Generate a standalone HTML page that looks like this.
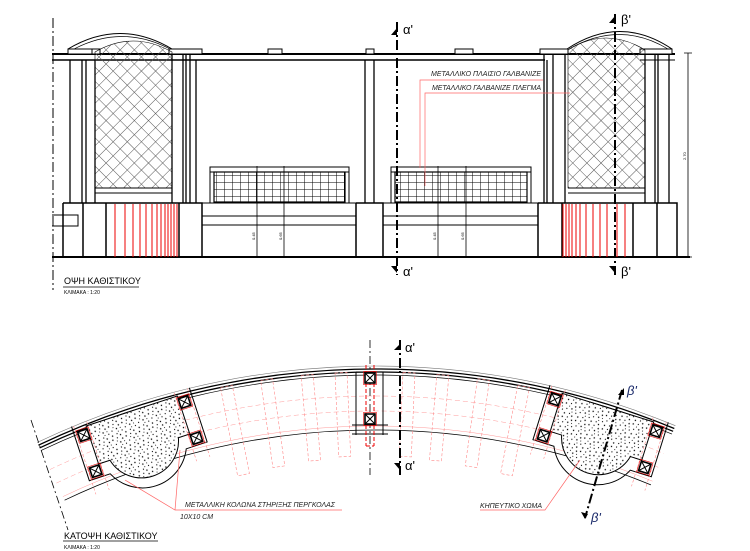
<!DOCTYPE html>
<html><head><meta charset="utf-8"><style>
html,body{margin:0;padding:0;background:#fff;width:750px;height:551px;overflow:hidden}
svg{display:block}
text{font-family:"Liberation Sans",sans-serif}
</style></head><body>
<svg width="750" height="551" viewBox="0 0 750 551" xmlns="http://www.w3.org/2000/svg" style="position:absolute;left:0;top:0">
<defs>
<pattern id="lat" width="10" height="10" patternUnits="userSpaceOnUse" patternTransform="rotate(45)">
<path d="M0 0V10M0 0H10" stroke="#555" stroke-width="1" fill="none"/>
</pattern>
<pattern id="dots" width="14" height="14" patternUnits="userSpaceOnUse">
<rect width="14" height="14" fill="#fff"/>
<g fill="#000">
<circle cx="1" cy="2" r=".7"/><circle cx="6" cy="1" r=".6"/><circle cx="11" cy="3" r=".7"/>
<circle cx="3" cy="7" r=".6"/><circle cx="8" cy="6" r=".7"/><circle cx="13" cy="9" r=".6"/>
<circle cx="2" cy="12" r=".7"/><circle cx="7" cy="11" r=".6"/><circle cx="10" cy="13" r=".7"/>
<circle cx="5" cy="4" r=".5"/><circle cx="12" cy="6" r=".5"/><circle cx="9" cy="9" r=".5"/>
</g>
</pattern>
<pattern id="grid" width="8" height="7" patternUnits="userSpaceOnUse">
<path d="M0 0V7M0 0H8" stroke="#000" stroke-width="1" fill="none"/>
</pattern>
<g id="col">
<rect x="-5" y="-5" width="10" height="10" fill="#fff" stroke="#000" stroke-width="1.6"/>
<path d="M-5 -5L5 5M5 -5L-5 5" stroke="#000" stroke-width="1"/>
<rect x="-6.5" y="-6.5" width="13" height="13" fill="none" stroke="#d00" stroke-width=".6"/>
</g>
<g id="planter">
<path d="M-62 368 V425 H-40 A44 44 0 0 0 40 425 H62 V368" fill="none" stroke="#000" stroke-width="1"/>
<path d="M-48 372 H48 V412 H36 A37 37 0 0 1 -36 412 H-48 Z" fill="url(#dots)" stroke="#000" stroke-width="1"/>
<use href="#col" x="-53" y="380"/><use href="#col" x="53" y="380"/>
<use href="#col" x="-53" y="418"/><use href="#col" x="53" y="418"/>
<path d="M-60 368V440M-46 368V440M46 368V440M60 368V440" stroke="#f88" stroke-width=".6" stroke-dasharray="3 2"/>
</g>
</defs>

<!-- ================= ELEVATION ================= -->
<g stroke="#000" fill="none">
<line x1="53" y1="18" x2="53" y2="290" stroke-width="1" stroke-dasharray="10 3 2 3"/>
<line x1="52" y1="54" x2="675" y2="54" stroke-width="2"/>
<line x1="52" y1="60" x2="545" y2="60" stroke-width="1.6"/>
<line x1="640" y1="60" x2="675" y2="60" stroke-width="1"/>
<rect x="68" y="49" width="31" height="5" fill="#fff" stroke-width="1"/>
<rect x="92" y="49" width="8" height="5" fill="#fff" stroke-width="1"/>
<rect x="169" y="49" width="33" height="5" fill="#fff" stroke-width="1"/>
<rect x="268" y="49" width="14" height="5" fill="#fff" stroke-width="1"/>
<rect x="366" y="49" width="8" height="5" fill="#fff" stroke-width="1"/>
<rect x="455" y="49" width="18" height="5" fill="#fff" stroke-width="1"/>
<rect x="540" y="49" width="28" height="5" fill="#fff" stroke-width="1"/>
<rect x="640" y="49" width="32" height="5" fill="#fff" stroke-width="1"/>
<path d="M68 49 Q120 18 172 49" stroke-width="1"/>
<path d="M74 49 Q122 24 170 49" stroke-width=".7"/>
<path d="M567 49 Q620 14 672 49" stroke-width="1"/>
<path d="M569 49 Q620 20 668 49" stroke-width=".7"/>
</g>
<path d="M95 188 V52 Q133 30 172 52 V188 Z" fill="url(#lat)" stroke="#000" stroke-width=".6"/>
<path d="M568 188 V50 Q606 26 645 50 V188 Z" fill="url(#lat)" stroke="#000" stroke-width=".6"/>
<g stroke="#000" fill="none">
<line x1="95" y1="188" x2="172" y2="188" stroke-width="1"/><line x1="95" y1="193" x2="172" y2="193"/>
<line x1="568" y1="188" x2="645" y2="188"/><line x1="568" y1="193" x2="645" y2="193"/>
<path d="M70 60V203M82 60V203M86 60V203M95 60V203" stroke-width="1.3"/>
<path d="M172 54V203M183 54V203M186 54V203M190 54V203M196 60V203" stroke-width="1.3"/>
<path d="M365 60V203M374 60V203" stroke-width="1.3"/>
<path d="M544 54V203M547 60V203M553 54V203M565 54V203" stroke-width="1.3"/>
<path d="M645 54V203M655 54V203M658 54V203M669 54V203" stroke-width="1.3"/>
<line x1="52" y1="257" x2="690" y2="257" stroke-width="2"/>
<path d="M63 203H202V257M63 203V257M83 203V257M106 203V257M179 203V257" stroke-width="1.5"/>
<path d="M52 215H78V226H52" stroke-width="1"/>
<path d="M202 216H356M202 225H356" stroke-width="1"/>
<path d="M356 203H383V257M356 203V257" stroke-width="1.5"/>
<path d="M383 216H538M383 225H538" stroke-width="1"/>
<path d="M538 203H677V257M538 203V257M562 203V257M633 203V257M657 203V257" stroke-width="1.5"/>
<line x1="383" y1="203" x2="538" y2="203" stroke-width="1"/>
<line x1="202" y1="203" x2="356" y2="203" stroke-width="1"/>
</g>
<g stroke="#e00" stroke-width="1">
<path d="M115 204V257M125 204V257M133 204V257M140 204V257M146 204V257M152 204V257M157 204V257M161 204V257M165 204V257M168 204V257M171 204V257M174 204V257M177 204V257"/>
<path d="M563 204V257M566 204V257M569 204V257M572 204V257M576 204V257M580 204V257M586 204V257M593 204V257M600 204V257M607 204V257M617 204V257M625 204V257"/>
</g>
<g stroke="#000" fill="none">
<rect x="210" y="167" width="139" height="36" stroke-width="1"/>
<line x1="210" y1="172" x2="349" y2="172"/>
<rect x="214" y="172" width="131" height="30" fill="url(#grid)" stroke-width="1.2"/>
<rect x="391" y="167" width="140" height="36" stroke-width="1"/>
<line x1="391" y1="172" x2="531" y2="172"/>
<rect x="395" y="172" width="132" height="30" fill="url(#grid)" stroke-width="1.2"/>
<path d="M257 166V258M284 166V258M438 166V258M466 166V258" stroke-width=".8"/>
<path d="M688 53V257M684 53H692M684 257H692" stroke-width=".8"/>
</g>
<g font-size="4" fill="#000">
<text transform="translate(255,240) rotate(-90)">0.45</text><text transform="translate(282,240) rotate(-90)">0.65</text>
<text transform="translate(436,240) rotate(-90)">0.45</text><text transform="translate(464,240) rotate(-90)">0.65</text>
<text transform="translate(686,160) rotate(-90)">2.70</text>
</g>
<g stroke="#000" stroke-width="2" stroke-dasharray="10 3 2 3">
<line x1="397" y1="22" x2="397" y2="275"/>
<line x1="615" y1="14" x2="615" y2="275"/>
</g>
<g fill="#000">
<path d="M391 35L397 28V35Z"/><path d="M391 266L397 266V273Z"/>
<path d="M609 23L615 16V23Z"/><path d="M609 266L615 266V273Z"/>
</g>
<g font-size="13" fill="#000" font-family="Liberation Serif,serif">
<text x="403" y="34">α'</text><text x="403" y="276">α'</text>
<text x="621" y="24">β'</text><text x="621" y="276">β'</text>
</g>
<g fill="#222" font-size="7" font-style="italic">
<text x="431" y="76" textLength="110">ΜΕΤΑΛΛΙΚΟ  ΠΛΑΙΣΙΟ  ΓΑΛΒΑΝΙΖΕ</text>
<text x="432" y="90" textLength="109">ΜΕΤΑΛΛΙΚΟ  ΓΑΛΒΑΝΙΖΕ  ΠΛΕΓΜΑ</text>
</g>
<g stroke="#f66" stroke-width=".7" fill="none">
<path d="M543 80H420V168"/><path d="M570 93H425V186"/>
</g>
<text x="64" y="284" font-size="9" font-family="Liberation Serif,serif">ΟΨΗ  ΚΑΘΙΣΤΙΚΟΥ</text>
<line x1="63" y1="287" x2="139" y2="287" stroke="#000" stroke-width=".8"/>
<text x="64" y="294" font-size="5">ΚΛΙΜΑΚΑ : 1:20</text>

<!-- ================= PLAN ================= -->
<g fill="none" stroke="#000">
<path d="M37.1 442.5A785 785 0 0 1 675.4 425.7" stroke-width=".6" stroke="#777"/>
<path d="M38.4 445.2A782 782 0 0 1 674.3 428.5" stroke-width="1.3"/>
<path d="M39.6 447.9A779 779 0 0 1 673.1 431.3" stroke-width="1.3"/>
<path d="M40.9 450.6A776 776 0 0 1 672.0 434.1" stroke-width=".7"/>
<path d="M50.0 469.5A755 755 0 0 1 663.9 453.5" stroke="#f99" stroke-width=".5" stroke-dasharray="5 3"/>
<path d="M56.4 483.1A740 740 0 0 1 658.2 467.3" stroke="#f99" stroke-width=".5" stroke-dasharray="5 3"/>
<path d="M62.9 496.6A725 725 0 0 1 652.5 481.2" stroke="#f99" stroke-width=".5"/>
<path d="M64.6 500.2A721 721 0 0 1 650.9 484.9" stroke-width=".8"/>
</g>
<line x1="31" y1="420" x2="68" y2="530" stroke="#000" stroke-width=".8" stroke-dasharray="8 3 2 3"/>
<g stroke="#f88" stroke-width=".6" fill="none" stroke-dasharray="3 2">
<g transform="rotate(-11 375 1151)"><rect x="369" y="372" width="12" height="90"/></g>
<g transform="rotate(-8 375 1151)"><rect x="369" y="372" width="12" height="88"/></g>
<g transform="rotate(-5 375 1151)"><rect x="369" y="372" width="12" height="86"/></g>
<g transform="rotate(-2.5 375 1151)"><rect x="369" y="372" width="12" height="84"/></g>
<g transform="rotate(2.5 375 1151)"><rect x="369" y="372" width="12" height="84"/></g>
<g transform="rotate(5 375 1151)"><rect x="369" y="372" width="12" height="86"/></g>
<g transform="rotate(8 375 1151)"><rect x="369" y="372" width="12" height="88"/></g>
<g transform="rotate(11 375 1151)"><rect x="369" y="372" width="12" height="90"/></g>
</g>
<g transform="rotate(-18.2 375 1151)"><use href="#planter" x="375"/></g>
<g transform="rotate(17.4 375 1151)"><use href="#planter" x="375"/></g>
<g stroke="#000" fill="none" stroke-width="1">
<path d="M356 372V435M383 372V435M352 434H388M352 425H388M356 372H383"/>
<path d="M366 365V446M374 365V446M366 446H374" stroke="#e00" stroke-dasharray="4 2" stroke-width="1"/>
<path d="M370 340V475" stroke-dasharray="8 3 2 3" stroke-width=".8"/>
</g>
<use href="#col" x="370" y="378"/><use href="#col" x="370" y="419"/>
<line x1="400" y1="340" x2="400" y2="475" stroke="#000" stroke-width="2" stroke-dasharray="10 3 2 3"/>
<path d="M394 350L400 344V350Z"/><path d="M394 463L400 463V470Z"/>
<text x="405" y="352" font-size="13" font-family="Liberation Serif,serif">α'</text>
<text x="405" y="470" font-size="13" font-family="Liberation Serif,serif">α'</text>
<line x1="622" y1="390" x2="585" y2="518" stroke="#000" stroke-width="2" stroke-dasharray="10 3 2 3"/>
<path d="M618 395L624 388L624 395Z"/><path d="M581 512L588 514L585 519Z"/>
<text x="627" y="395" font-size="13" font-style="italic" fill="#1a2a6a" font-family="Liberation Serif,serif">β'</text>
<text x="591" y="522" font-size="13" font-style="italic" fill="#1a2a6a" font-family="Liberation Serif,serif">β'</text>
<g stroke="#f66" stroke-width=".7" fill="none">
<path d="M342 510H175L125 480"/><path d="M175 510L180 450"/>
<path d="M480 510H545L580 460"/>
</g>
<g fill="#222" font-size="7" font-style="italic">
<text x="185" y="507" textLength="150">ΜΕΤΑΛΛΙΚΗ  ΚΟΛΩΝΑ  ΣΤΗΡΙΞΗΣ  ΠΕΡΓΚΟΛΑΣ</text>
<text x="180" y="519">10Χ10  CM</text>
<text x="480" y="508" textLength="62">ΚΗΠΕΥΤΙΚΟ  ΧΩΜΑ</text>
</g>
<text x="64" y="539" font-size="9" font-family="Liberation Serif,serif">ΚΑΤΟΨΗ  ΚΑΘΙΣΤΙΚΟΥ</text>
<line x1="63" y1="541" x2="158" y2="541" stroke="#000" stroke-width=".8"/>
<text x="64" y="549" font-size="5">ΚΛΙΜΑΚΑ : 1:20</text>
</svg>
</body></html>
